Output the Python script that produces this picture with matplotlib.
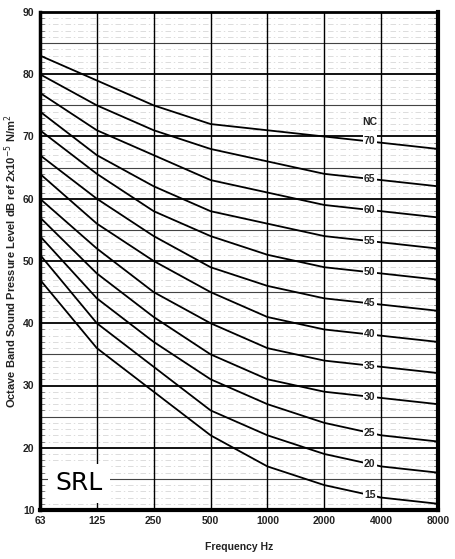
import matplotlib.pyplot as plt
import numpy as np

plt.rcParams['font.family'] = ['Liberation Sans', 'DejaVu Sans']

freqs = ['63', '125', '250', '500', '1000', '2000', '4000', '8000']
nc_levels = [15, 20, 25, 30, 35, 40, 45, 50, 55, 60, 65, 70]
nc_curves = [
    [47, 36, 29, 22, 17, 14, 12, 11],
    [51, 40, 33, 26, 22, 19, 17, 16],
    [54, 44, 37, 31, 27, 24, 22, 21],
    [57, 48, 41, 35, 31, 29, 28, 27],
    [60, 52, 45, 40, 36, 34, 33, 32],
    [64, 56, 50, 45, 41, 39, 38, 37],
    [67, 60, 54, 49, 46, 44, 43, 42],
    [71, 64, 58, 54, 51, 49, 48, 47],
    [74, 67, 62, 58, 56, 54, 53, 52],
    [77, 71, 67, 63, 61, 59, 58, 57],
    [80, 75, 71, 68, 66, 64, 63, 62],
    [83, 79, 75, 72, 71, 70, 69, 68],
]

fig = plt.figure(figsize=(4.55, 5.59), dpi=100)
ax = fig.add_axes([40 / 455, 1 - 510 / 559, 398 / 455, 498 / 559])

x = np.arange(len(freqs))

# graph paper: fine lines every dB, medium every 5, heavy every 10
for v in range(11, 90):
    if v % 5:
        ax.axhline(v, color='#cfcfcf', lw=0.5, ls=(0, (8, 4, 2, 4)), zorder=1)
        ax.plot([0, 0.07], [v, v], color='#555555', lw=0.5, zorder=2)
        ax.plot([6.93, 7], [v, v], color='#555555', lw=0.5, zorder=2)
for v in range(15, 90, 10):
    ax.axhline(v, color='#444444', lw=0.8, zorder=2)
for v in range(20, 90, 10):
    ax.axhline(v, color='black', lw=1.3, zorder=2)
for xi in x[1:-1]:
    ax.axvline(xi, color='black', lw=1.0, zorder=2)

lab_x = 5.8
for nc, vals in zip(nc_levels, nc_curves):
    ax.plot(x, vals, color='black', lw=1.3, zorder=3)
    ly = np.interp(lab_x, x, vals)
    ax.text(lab_x, ly, str(nc), ha='center', va='center', fontsize=7.5,
            fontweight='bold', color='#222222', zorder=5,
            bbox=dict(boxstyle='square,pad=0.1', fc='white', ec='none'))
ax.text(lab_x, 72.4, 'NC', ha='center', va='center', fontsize=7.5,
        fontweight='bold', color='#222222', zorder=5)

# SRL logo
ax.text(0.68, 14.3, 'SRL', ha='center', va='center', fontsize=18,
        family='DejaVu Sans', fontweight='normal', zorder=5,
        bbox=dict(boxstyle='square,pad=0.3', fc='white', ec='none'))

ax.set_xlim(0, 7)
ax.set_ylim(10, 90)
ax.set_xticks(x)
ax.set_xticklabels(freqs)
ax.set_yticks(np.arange(10, 91, 10))
ax.tick_params(length=0, labelsize=7.5, pad=4, colors='#222222')
for lbl in ax.get_xticklabels() + ax.get_yticklabels():
    lbl.set_fontweight('bold')

for side, w in [('left', 2.5), ('bottom', 3), ('right', 3), ('top', 2)]:
    ax.spines[side].set_linewidth(w)
    ax.spines[side].set_zorder(6)

ax.set_xlabel('Frequency Hz', fontsize=7.5, fontweight='bold', labelpad=12,
              color='#222222')
ax.set_ylabel('Octave Band Sound Pressure Level dB ref 2x10$^{-5}$ N/m$^2$',
              fontsize=8, fontweight='bold', labelpad=3, color='#222222')

fig.savefig('out.png', dpi=100)
